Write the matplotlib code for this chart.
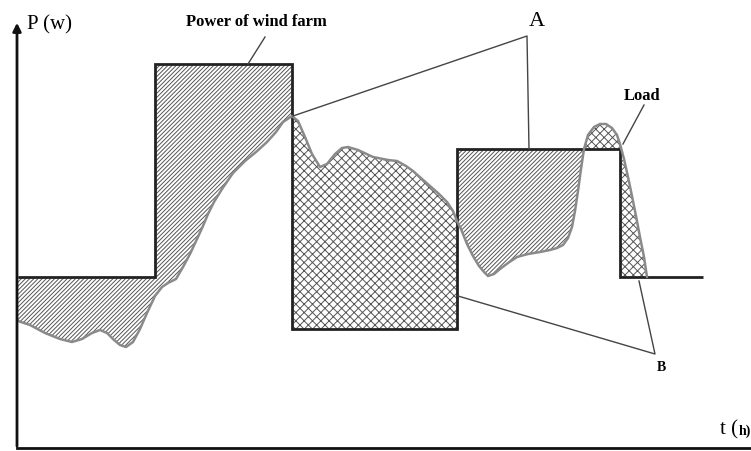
import matplotlib.pyplot as plt
import numpy as np

plt.rcParams['font.family'] = ['Liberation Serif', 'DejaVu Serif']
plt.rcParams['hatch.linewidth'] = 0.7

# wind farm power: step edges (t) and levels (P)
wind_edges = [18, 155, 292, 457, 620, 703]
wind_power = [174, 387, 122, 302, 174]

# load curve
load_t = [18, 30, 45, 60, 72, 82, 92, 100, 107, 113, 120, 126, 133, 140, 147,
          155, 162, 168, 176, 183, 190, 197, 203, 208, 214, 222, 233, 245, 256,
          267, 276, 283, 292, 298, 305, 312, 320, 327, 335, 342, 348, 358, 373,
          388, 397, 406, 413, 422, 430, 439, 447, 453, 457, 461, 467, 473, 479,
          484, 488, 494, 500, 508, 517, 528, 540, 550, 557, 563, 568, 572, 575,
          578, 581, 584, 588, 594, 600, 606, 612, 617, 620, 624, 628, 632, 636,
          640, 644, 647]
load_p = [130, 126, 118, 112, 109, 112, 118, 121, 118, 112, 106, 104, 109, 122,
          138, 155, 164, 168, 172, 184, 197, 212, 225, 237, 249, 262, 278, 290,
          299, 309, 319, 329, 335, 330, 314, 297, 284, 287, 297, 303, 304, 301,
          294, 291, 290, 285, 280, 272, 265, 257, 249, 240, 230, 222, 207, 195,
          185, 179, 175, 177, 182, 188, 194, 197, 199, 201, 203, 206, 213, 224,
          240, 260, 282, 302, 316, 324, 327, 327, 323, 316, 307, 292, 274, 255,
          235, 214, 194, 174]

fig = plt.figure(figsize=(7.51, 4.52), dpi=100)
ax = fig.add_axes([0, 0, 1, 1])
ax.set_xlim(0, 751)
ax.set_ylim(0, 452)
ax.axis('off')

t = np.array(load_t)
p = np.array(load_p)
hc = '#555555'
for i, lvl in enumerate(wind_power):
    m = (t >= wind_edges[i]) & (t <= wind_edges[i + 1])
    if m.sum() < 2:
        continue
    tt, pp = t[m], p[m]
    # surplus (wind above load) -> diagonal, deficit -> cross
    ax.fill_between(tt, pp, lvl, where=pp <= lvl, interpolate=True,
                    facecolor='none', edgecolor=hc, hatch='////////', lw=0)
    ax.fill_between(tt, pp, lvl, where=pp >= lvl, interpolate=True,
                    facecolor='none', edgecolor=hc, hatch='xxxx', lw=0)

ax.plot(t, p, color='#8a8a8a', lw=1.8, solid_capstyle='round')
ax.stairs(wind_power, wind_edges, baseline=None, color='#222222', lw=2)

# axes with arrow
ax.plot([17, 751], [3, 3], color='#111111', lw=2)
ax.annotate('', xy=(17, 431), xytext=(17, 2),
            arrowprops=dict(arrowstyle='-|>', color='#111111', lw=2,
                            mutation_scale=12))
ax.text(27, 427, 'P (w)', fontsize=15, va='center', ha='left')
ax.text(720, 22, 't (', fontsize=15, va='center', ha='left')
ax.text(739, 21, 'h)', fontsize=10, fontweight='bold', va='center', ha='left')

# labels and leader lines
lc = '#444444'
ax.text(256, 430, 'Power of wind farm', fontsize=12, fontweight='bold',
        ha='center', va='center')
ax.plot([265, 248], [414, 387], color=lc, lw=1)
ax.text(537, 431, 'A', fontsize=16, ha='center', va='center')
ax.plot([293, 527, 529], [335, 415, 302], color=lc, lw=1)
ax.text(642, 356, 'Load', fontsize=12, fontweight='bold', ha='center', va='center')
ax.plot([644, 623], [346, 307], color=lc, lw=1)
ax.text(661, 84, 'B', fontsize=10, fontweight='bold', ha='center', va='center')
ax.plot([458, 655, 639], [155, 97, 170], color=lc, lw=1)

fig.savefig('out.png', dpi=100)
